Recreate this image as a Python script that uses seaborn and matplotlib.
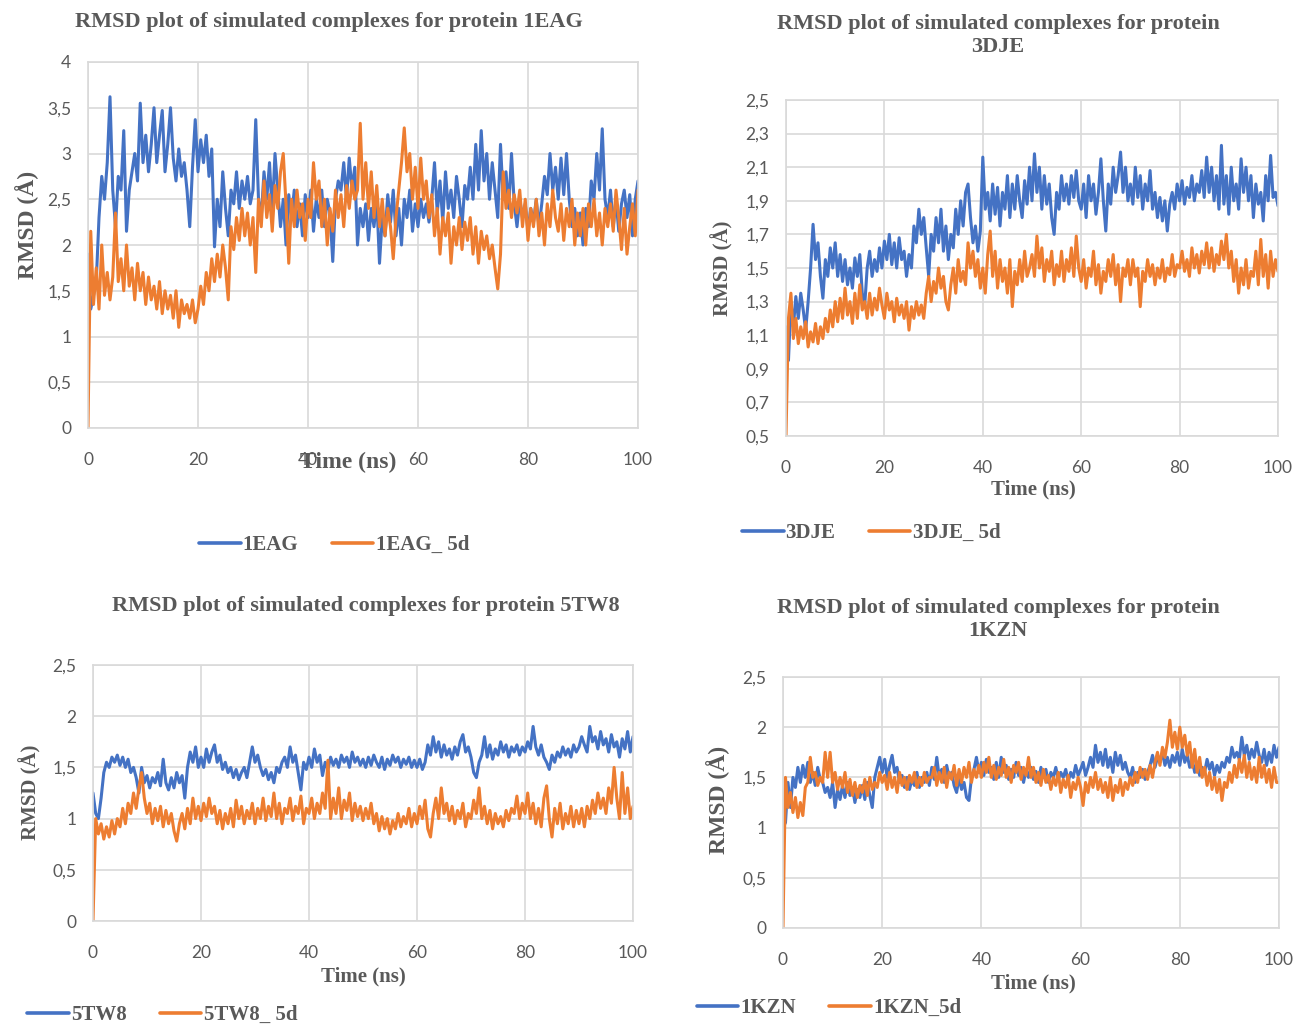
import numpy as np
import pandas as pd
import matplotlib
matplotlib.use("Agg")
import matplotlib.pyplot as plt
import seaborn as sns
from matplotlib.ticker import FuncFormatter, FixedLocator
from matplotlib.font_manager import FontProperties

# ---------------- data (RMSD in Angstrom, sampled every 0.5 ns from 0 to 100 ns) ----------------
rmsd_1eag = [
    1.9, 1.3, 1.45, 1.6, 2.3, 2.75, 2.5, 2.9, 3.62, 2.6, 2.2, 2.75, 2.6, 3.25, 2.15, 2.6, 2.8, 3.0, 2.7, 3.55,
    2.9, 3.2, 2.8, 3.1, 3.5, 2.9, 3.2, 3.47, 2.8, 3.1, 3.5, 2.95, 2.7, 3.05, 2.75, 2.9, 2.6, 2.2, 2.85, 3.37,
    2.8, 3.15, 2.9, 3.2, 2.75, 3.05, 1.98, 2.5, 2.2, 2.8, 2.4, 2.1, 2.6, 2.45, 2.8, 2.4, 2.7, 2.5, 2.75, 2.45,
    2.6, 3.37, 2.5, 2.3, 2.8, 2.5, 2.9, 2.35, 3.0, 2.6, 2.2, 2.5, 2.0, 2.55, 2.3, 2.6, 2.2, 2.45, 2.1, 2.55,
    2.3, 2.6, 2.15, 2.5, 2.3, 2.6, 2.2, 2.5, 2.35, 1.82, 2.5, 2.7, 2.6, 2.9, 2.5, 2.95, 2.6, 2.85, 2.0, 2.4,
    2.2, 2.45, 2.05, 2.4, 2.2, 2.5, 1.8, 2.3, 2.1, 2.55, 2.25, 2.6, 2.1, 2.4, 2.0, 2.5, 2.3, 2.6, 2.15, 2.45,
    2.2, 2.5, 2.3, 2.45, 2.25, 2.5, 2.9, 2.35, 2.7, 2.25, 2.8, 2.4, 2.6, 2.3, 2.75, 2.5, 2.2, 2.65, 2.5, 2.85,
    2.5, 3.1, 2.6, 3.25, 2.7, 3.0, 2.5, 2.9, 2.6, 2.3, 3.1, 2.5, 2.8, 2.4, 3.0, 2.45, 2.2, 2.5, 2.3, 2.45,
    2.15, 2.4, 2.25, 2.5, 2.2, 2.45, 2.75, 2.55, 3.0, 2.6, 2.85, 2.5, 2.95, 2.55, 3.0, 2.5, 2.2, 2.4, 2.1, 2.35,
    2.0, 2.4, 2.2, 2.7, 2.5, 3.0, 2.6, 3.27, 2.5, 2.3, 2.6, 2.2, 2.5, 2.15, 2.45, 2.6, 2.3, 2.55, 2.1, 2.5,
    2.7]
rmsd_1eag_5d = [
    0.0, 2.15, 1.35, 1.75, 1.3, 2.0, 1.45, 1.7, 1.4, 1.65, 2.35, 1.6, 1.85, 1.5, 2.0, 1.55, 1.75, 1.4, 1.8, 1.5,
    1.7, 1.35, 1.65, 1.4, 1.55, 1.3, 1.6, 1.25, 1.5, 1.3, 1.45, 1.2, 1.5, 1.1, 1.4, 1.25, 1.35, 1.2, 1.4, 1.15,
    1.3, 1.55, 1.35, 1.7, 1.5, 1.85, 1.6, 1.9, 1.65, 2.0, 1.75, 1.4, 2.2, 1.95, 2.3, 2.05, 2.4, 2.1, 2.35, 2.0,
    2.3, 1.7, 2.5, 2.2, 2.7, 2.3, 2.55, 2.15, 2.65, 2.4, 2.8, 3.0, 2.45, 1.8, 2.5, 2.2, 2.6, 2.3, 2.45, 2.05,
    2.5, 2.3, 2.9, 2.5, 2.7, 2.2, 2.5, 2.0, 2.4, 2.15, 2.6, 2.3, 2.55, 2.2, 2.65, 2.4, 2.7, 2.5, 2.6, 3.33,
    2.5, 2.9, 2.4, 2.8, 2.3, 2.65, 2.2, 2.5, 2.1, 2.4, 2.2, 1.85, 2.3, 2.6, 2.9, 3.28, 2.8, 3.0, 2.5, 2.85,
    2.4, 2.95, 2.5, 2.7, 2.3, 2.55, 2.1, 2.4, 1.9, 2.3, 2.1, 2.35, 1.8, 2.2, 2.0, 2.3, 1.95, 2.25, 2.05, 2.3,
    1.9, 2.2, 1.8, 2.15, 1.95, 2.1, 1.85, 2.0, 1.75, 1.52, 1.9, 2.8, 2.4, 2.6, 2.3, 2.55, 2.35, 2.6, 2.2, 2.5,
    2.05, 2.4, 2.2, 2.5, 2.1, 2.35, 2.0, 2.45, 2.2, 2.6, 2.3, 2.15, 2.45, 2.05, 2.4, 2.2, 2.5, 2.0, 2.35, 2.1,
    2.4, 2.0, 2.45, 2.2, 2.5, 2.1, 2.35, 2.0, 2.4, 2.2, 2.45, 2.15, 2.6, 2.3, 1.95, 2.4, 1.9, 2.2, 2.45, 2.1,
    2.6]

rmsd_3dje = [
    1.15, 0.95, 1.3, 1.15, 1.33, 1.2, 1.35, 1.25, 1.13, 1.3, 1.5, 1.76, 1.55, 1.65, 1.45, 1.32, 1.55, 1.45, 1.62, 1.5,
    1.65, 1.45, 1.58, 1.42, 1.55, 1.4, 1.5, 1.38, 1.56, 1.45, 1.58, 1.35, 1.28, 1.5, 1.6, 1.45, 1.55, 1.48, 1.62, 1.5,
    1.66, 1.55, 1.7, 1.52, 1.65, 1.5, 1.68, 1.55, 1.6, 1.45, 1.58, 1.5, 1.75, 1.65, 1.85, 1.7, 1.8, 1.62, 1.45, 1.7,
    1.6, 1.8, 1.65, 1.85, 1.6, 1.75, 1.55, 1.7, 1.62, 1.85, 1.7, 1.9, 1.75, 1.95, 2.0, 1.8, 1.65, 1.75, 1.6, 1.72,
    2.16, 1.85, 1.95, 1.78, 2.0, 1.82, 1.98, 1.75, 1.95, 1.85, 2.05, 1.8, 2.0, 1.85, 2.05, 1.9, 1.8, 2.02, 1.88, 2.1,
    1.9, 2.18, 1.95, 2.1, 1.85, 2.05, 1.88, 2.0, 1.8, 1.7, 1.95, 1.85, 2.05, 1.9, 2.0, 1.88, 2.05, 1.92, 2.08, 1.9,
    1.85, 2.0, 1.8, 2.05, 1.9, 2.0, 1.82, 1.95, 2.15, 1.9, 1.72, 2.0, 1.88, 2.1, 1.95, 2.05, 2.19, 1.95, 2.1, 1.9,
    2.0, 1.88, 2.1, 1.92, 2.05, 1.85, 2.0, 1.9, 2.08, 1.85, 1.95, 1.8, 1.92, 1.78, 1.9, 1.72, 1.88, 1.95, 1.85, 2.0,
    1.9, 2.02, 1.88, 1.98, 1.92, 2.05, 1.9, 2.0, 1.95, 2.08, 1.92, 2.16, 1.95, 2.1, 1.9, 2.05, 1.85, 2.23, 1.88, 2.05,
    1.82, 2.1, 1.9, 2.0, 1.85, 2.15, 1.95, 2.1, 1.9, 2.05, 1.8, 2.0, 1.88, 1.95, 1.78, 2.05, 1.9, 2.17, 1.92, 1.95,
    1.87]
rmsd_3dje_5d = [
    0.5, 1.2, 1.35, 1.08, 1.2, 1.05, 1.15, 1.08, 1.18, 1.03, 1.12, 1.06, 1.17, 1.05, 1.15, 1.08, 1.2, 1.12, 1.25, 1.15,
    1.3, 1.18, 1.32, 1.2, 1.38, 1.22, 1.3, 1.17, 1.35, 1.2, 1.4, 1.25, 1.3, 1.2, 1.35, 1.22, 1.32, 1.25, 1.38, 1.28,
    1.2, 1.35, 1.25, 1.3, 1.18, 1.32, 1.22, 1.28, 1.2, 1.3, 1.13, 1.27, 1.2, 1.3, 1.22, 1.28, 1.2, 1.35, 1.45, 1.3,
    1.42, 1.35, 1.5, 1.38, 1.45, 1.3, 1.25, 1.4, 1.5, 1.35, 1.55, 1.42, 1.48, 1.4, 1.65, 1.5, 1.6, 1.45, 1.55, 1.38,
    1.5, 1.35, 1.58, 1.72, 1.45, 1.6, 1.38, 1.55, 1.42, 1.5, 1.35, 1.55, 1.27, 1.48, 1.4, 1.55, 1.42, 1.6, 1.45, 1.5,
    1.58, 1.45, 1.69, 1.5, 1.62, 1.42, 1.55, 1.48, 1.6, 1.4, 1.52, 1.45, 1.6, 1.42, 1.55, 1.48, 1.62, 1.45, 1.69, 1.5,
    1.42, 1.55, 1.38, 1.5, 1.45, 1.6, 1.4, 1.52, 1.35, 1.48, 1.42, 1.55, 1.45, 1.58, 1.4, 1.52, 1.3, 1.5, 1.45, 1.55,
    1.4, 1.55, 1.45, 1.5, 1.27, 1.48, 1.42, 1.55, 1.45, 1.52, 1.4, 1.5, 1.44, 1.55, 1.42, 1.5, 1.46, 1.58, 1.45, 1.52,
    1.5, 1.6, 1.48, 1.55, 1.45, 1.62, 1.5, 1.58, 1.47, 1.6, 1.52, 1.65, 1.5, 1.62, 1.48, 1.58, 1.52, 1.66, 1.55, 1.7,
    1.5, 1.6, 1.42, 1.55, 1.35, 1.5, 1.4, 1.55, 1.38, 1.48, 1.45, 1.6, 1.4, 1.67, 1.45, 1.58, 1.38, 1.6, 1.45, 1.55,
    1.48]

rmsd_5tw8 = [
    1.25, 1.05, 1.0, 1.2, 1.45, 1.55, 1.5, 1.6, 1.55, 1.62, 1.52, 1.6, 1.5, 1.58, 1.45, 1.5, 1.4, 1.25, 1.5, 1.35,
    1.42, 1.3, 1.4, 1.35, 1.45, 1.32, 1.58, 1.35, 1.28, 1.4, 1.3, 1.45, 1.35, 1.42, 1.2, 1.5, 1.65, 1.55, 1.7, 1.5,
    1.6, 1.5, 1.68, 1.55, 1.65, 1.72, 1.55, 1.62, 1.48, 1.55, 1.45, 1.5, 1.4, 1.48, 1.38, 1.45, 1.5, 1.4, 1.55, 1.7,
    1.55, 1.62, 1.5, 1.42, 1.48, 1.38, 1.45, 1.35, 1.5, 1.45, 1.55, 1.6, 1.5, 1.7, 1.55, 1.62, 1.45, 1.28, 1.55, 1.48,
    1.6, 1.5, 1.68, 1.55, 1.62, 1.42, 1.55, 1.48, 1.6, 1.52, 1.58, 1.5, 1.62, 1.55, 1.6, 1.5, 1.65, 1.55, 1.6, 1.52,
    1.58, 1.5, 1.6, 1.52, 1.62, 1.55, 1.5, 1.6, 1.48, 1.58, 1.52, 1.62, 1.55, 1.6, 1.5, 1.58, 1.53, 1.6, 1.5, 1.57,
    1.5, 1.58, 1.48, 1.55, 1.72, 1.62, 1.8, 1.65, 1.75, 1.6, 1.72, 1.62, 1.68, 1.58, 1.7, 1.62, 1.75, 1.82, 1.65, 1.7,
    1.6, 1.45, 1.4, 1.55, 1.62, 1.8, 1.6, 1.72, 1.58, 1.68, 1.62, 1.75, 1.65, 1.72, 1.6, 1.7, 1.65, 1.72, 1.62, 1.7,
    1.65, 1.75, 1.68, 1.9, 1.7, 1.62, 1.72, 1.6, 1.55, 1.48, 1.62, 1.55, 1.65, 1.6, 1.7, 1.62, 1.68, 1.6, 1.72, 1.65,
    1.7, 1.8, 1.72, 1.65, 1.9, 1.75, 1.8, 1.68, 1.85, 1.72, 1.78, 1.65, 1.82, 1.7, 1.75, 1.6, 1.78, 1.68, 1.85, 1.65,
    1.8]
rmsd_5tw8_5d = [
    0.0, 1.0, 0.85, 0.95, 0.8, 0.92, 0.82, 0.98, 0.85, 1.0, 0.92, 1.1, 0.95, 1.15, 1.05, 1.25, 1.1, 1.3, 1.45, 1.2,
    1.05, 1.15, 0.95, 1.1, 0.98, 1.12, 0.92, 1.08, 0.95, 1.05, 0.88, 0.78, 0.95, 1.05, 0.9, 1.1, 0.95, 1.2, 1.0, 1.12,
    0.98, 1.15, 1.02, 1.2, 1.05, 1.12, 0.95, 1.08, 0.9, 1.05, 0.95, 1.1, 0.92, 1.18, 1.0, 1.12, 0.95, 1.08, 1.0, 1.15,
    0.95, 1.1, 1.0, 1.2, 0.98, 1.12, 1.02, 1.25, 1.0, 1.15, 0.95, 1.1, 1.05, 1.2, 0.98, 1.12, 1.05, 1.22, 0.95, 1.1,
    1.05, 1.2, 1.0, 1.15, 1.05, 1.25, 1.1, 1.57, 1.0, 1.2, 1.05, 1.3, 1.0, 1.18, 1.08, 1.25, 0.98, 1.15, 1.02, 1.12,
    0.98, 1.1, 1.0, 1.15, 0.95, 1.05, 0.88, 1.02, 0.9, 1.0, 0.85, 0.98, 0.9, 1.05, 0.92, 1.02, 0.95, 1.1, 0.92, 1.05,
    0.95, 1.12, 1.0, 1.18, 0.9, 0.82, 1.05, 1.2, 1.0, 1.3, 1.05, 1.15, 0.98, 1.12, 0.95, 1.08, 1.0, 1.15, 0.92, 1.05,
    1.0, 1.18, 1.05, 1.3, 1.0, 1.12, 0.95, 1.08, 0.9, 1.05, 0.95, 1.02, 0.92, 1.08, 0.98, 1.1, 1.05, 1.22, 1.0, 1.15,
    1.05, 1.25, 1.0, 1.15, 0.95, 1.1, 0.92, 1.2, 1.32, 1.0, 0.82, 1.1, 0.95, 1.15, 0.9, 1.05, 0.95, 1.12, 0.92, 1.08,
    0.95, 1.1, 0.92, 1.12, 1.0, 1.18, 1.05, 1.25, 1.1, 1.2, 1.05, 1.3, 1.15, 1.5, 1.2, 1.0, 1.45, 1.05, 1.3, 1.0,
    1.12]

rmsd_1kzn = [
    1.0, 1.05, 1.45, 1.2, 1.5, 1.4, 1.6, 1.45, 1.62, 1.5, 1.65, 1.45, 1.55, 1.42, 1.6, 1.48, 1.45, 1.35, 1.4, 1.3,
    1.45, 1.2, 1.38, 1.28, 1.42, 1.3, 1.45, 1.32, 1.4, 1.25, 1.38, 1.3, 1.42, 1.28, 1.45, 1.32, 1.2, 1.5, 1.6, 1.7,
    1.55, 1.68, 1.5, 1.62, 1.72, 1.55, 1.6, 1.45, 1.52, 1.4, 1.5, 1.38, 1.48, 1.42, 1.55, 1.4, 1.5, 1.45, 1.55, 1.42,
    1.6, 1.48, 1.7, 1.5, 1.58, 1.45, 1.62, 1.5, 1.55, 1.42, 1.35, 1.5, 1.38, 1.45, 1.3, 1.27, 1.5, 1.58, 1.7, 1.55,
    1.65, 1.52, 1.68, 1.55, 1.6, 1.48, 1.65, 1.5, 1.7, 1.55, 1.62, 1.48, 1.58, 1.5, 1.65, 1.52, 1.6, 1.45, 1.58, 1.5,
    1.6, 1.48, 1.56, 1.45, 1.6, 1.5, 1.58, 1.45, 1.55, 1.5, 1.6, 1.48, 1.55, 1.5, 1.58, 1.46, 1.55, 1.5, 1.62, 1.52,
    1.58, 1.65, 1.52, 1.6, 1.7, 1.6, 1.82, 1.65, 1.75, 1.62, 1.78, 1.6, 1.7, 1.55, 1.75, 1.62, 1.72, 1.58, 1.65, 1.55,
    1.5, 1.6, 1.45, 1.55, 1.5, 1.58, 1.48, 1.55, 1.62, 1.72, 1.6, 1.7, 1.65, 1.75, 1.62, 1.7, 1.6, 1.72, 1.65, 1.75,
    1.62, 1.78, 1.65, 1.72, 1.6, 1.68, 1.55, 1.65, 1.52, 1.6, 1.55, 1.68, 1.58, 1.65, 1.52, 1.62, 1.55, 1.65, 1.6, 1.7,
    1.65, 1.8, 1.7, 1.75, 1.68, 1.9, 1.72, 1.82, 1.68, 1.78, 1.7, 1.85, 1.72, 1.65, 1.78, 1.62, 1.75, 1.65, 1.82, 1.7,
    1.8]
rmsd_1kzn_5d = [
    0.0, 1.5, 1.2, 1.35, 1.15, 1.3, 1.1, 1.25, 1.12, 1.4, 1.45, 1.7, 1.5, 1.55, 1.42, 1.5, 1.45, 1.75, 1.5, 1.75,
    1.45, 1.55, 1.38, 1.5, 1.4, 1.55, 1.35, 1.48, 1.32, 1.45, 1.3, 1.42, 1.35, 1.48, 1.32, 1.5, 1.38, 1.45, 1.4, 1.55,
    1.45, 1.52, 1.38, 1.55, 1.4, 1.5, 1.35, 1.55, 1.42, 1.5, 1.38, 1.52, 1.45, 1.55, 1.4, 1.5, 1.42, 1.55, 1.45, 1.5,
    1.5, 1.6, 1.42, 1.55, 1.45, 1.6, 1.4, 1.55, 1.48, 1.62, 1.42, 1.58, 1.45, 1.6, 1.5, 1.65, 1.45, 1.58, 1.5, 1.62,
    1.5, 1.65, 1.55, 1.7, 1.5, 1.62, 1.48, 1.6, 1.52, 1.68, 1.5, 1.6, 1.45, 1.62, 1.55, 1.65, 1.48, 1.6, 1.52, 1.7,
    1.5, 1.6, 1.45, 1.55, 1.42, 1.58, 1.45, 1.52, 1.38, 1.5, 1.42, 1.55, 1.35, 1.48, 1.4, 1.52, 1.3, 1.45, 1.38, 1.5,
    1.4, 1.22, 1.45, 1.35, 1.5, 1.4, 1.55, 1.38, 1.48, 1.35, 1.45, 1.3, 1.5, 1.27, 1.42, 1.35, 1.48, 1.32, 1.45, 1.38,
    1.5, 1.42, 1.55, 1.45, 1.6, 1.5, 1.58, 1.48, 1.62, 1.5, 1.65, 1.75, 1.62, 1.8, 1.7, 1.85, 2.07, 1.8, 1.95, 1.78,
    2.0, 1.8, 1.92, 1.72, 1.85, 1.6, 1.78, 1.55, 1.7, 1.5, 1.6, 1.42, 1.55, 1.38, 1.5, 1.35, 1.48, 1.27, 1.45, 1.4,
    1.55, 1.45, 1.62, 1.5, 1.68, 1.55, 1.72, 1.5, 1.65, 1.48, 1.6, 1.45, 1.7, 1.5, 1.62, 1.45, 1.58, 1.4, 1.6, 1.45,
    1.45]

proteins = ["1EAG", "3DJE", "5TW8", "1KZN"]
labels_main = ["1EAG", "3DJE", "5TW8", "1KZN"]
labels_5d = ["1EAG_ 5d", "3DJE_ 5d", "5TW8_ 5d", "1KZN_5d"]
series_main = [rmsd_1eag, rmsd_3dje, rmsd_5tw8, rmsd_1kzn]
series_5d = [rmsd_1eag_5d, rmsd_3dje_5d, rmsd_5tw8_5d, rmsd_1kzn_5d]
y_limits = [(0, 4), (0.5, 2.5), (0, 2.5), (0, 2.5)]
y_steps = [0.5, 0.2, 0.5, 0.5]
x_ticks = [0, 20, 40, 60, 80, 100]

# ---------------- style ----------------
BLUE = "#4472C4"
ORANGE = "#ED7D31"
GRID = "#D9D9D9"
TEXT = "#595959"
SERIF = "Liberation Serif"
SANS = "Lato"

sns.set_theme(style="white")
plt.rcParams["font.family"] = [SANS, "DejaVu Sans"]

W, H = 1297, 1029
fig = plt.figure(figsize=(W / 100, H / 100), dpi=100)

def fx(px):
    return px / W

def fy(py):
    return 1 - py / H

# axes boxes in pixel coords: left, top, right, bottom
boxes = [(88, 62, 638, 428), (786, 100, 1278, 436), (93, 665, 633, 921), (783, 677, 1279, 928)]
titles = ["RMSD plot of simulated complexes for protein 1EAG",
          "RMSD plot of simulated complexes for protein\n3DJE",
          "RMSD plot of simulated complexes for protein 5TW8",
          "RMSD plot of simulated complexes for protein\n1KZN"]
title_pos = [(329, 22), (998, 35), (366, 606), (998, 619)]
ylabel_pos = [(27, 225), (722, 268), (30, 792), (718, 800)]
ylabel_size = [17, 15, 15, 17]
xlabel_pos = [(348, 462), (1033, 489), (363, 976), (1033, 983)]
xlabel_size = [17, 15, 15, 15]
legend_pos = [(334, 545), (871, 533), (162, 1015), (829, 1008)]

def fmt(v, p):
    s = ("%.1f" % v).rstrip("0").rstrip(".")
    return s.replace(".", ",")

for i in range(4):
    l, t, r, b = boxes[i]
    ax = fig.add_axes([fx(l), fy(b), fx(r - l), fy(t) - fy(b)])
    n1 = len(series_main[i])
    n2 = len(series_5d[i])
    df = pd.DataFrame({
        "time": np.concatenate([np.linspace(0, 100, n1), np.linspace(0, 100, n2)]),
        "rmsd": np.concatenate([series_main[i], series_5d[i]]),
        "series": [labels_main[i]] * n1 + [labels_5d[i]] * n2,
    })
    sns.lineplot(data=df, x="time", y="rmsd", hue="series", palette=[BLUE, ORANGE],
                 linewidth=2.2, errorbar=None, ax=ax, legend=True)
    ax.set_xlim(0, 100)
    ax.set_ylim(*y_limits[i])
    ax.xaxis.set_major_locator(FixedLocator(x_ticks))
    lo, hi = y_limits[i]
    yt = np.round(np.arange(lo, hi + 1e-9, y_steps[i]), 2)
    ax.yaxis.set_major_locator(FixedLocator(yt))
    ax.yaxis.set_major_formatter(FuncFormatter(fmt))
    ax.grid(True, color=GRID, linewidth=1.2)
    ax.set_axisbelow(True)
    for sp in ax.spines.values():
        sp.set_color(GRID)
        sp.set_linewidth(1.2)
    ax.tick_params(axis="both", length=0, labelsize=12.5, labelcolor=TEXT)
    ax.tick_params(axis="x", pad=17)
    ax.tick_params(axis="y", pad=12)
    for lab in ax.get_xticklabels() + ax.get_yticklabels():
        lab.set_family([SANS, "DejaVu Sans"])
    ax.set_xlabel("")
    ax.set_ylabel("")

    handles, labs = ax.get_legend_handles_labels()
    lx, ly = legend_pos[i]
    leg = ax.legend(handles, labs, loc="center", bbox_to_anchor=(fx(lx), fy(ly)),
                    bbox_transform=fig.transFigure, ncol=2, frameon=False,
                    handlelength=2.0, handletextpad=0.1, columnspacing=1.6,
                    prop=FontProperties(family=SERIF, weight="bold", size=15))
    for txt in leg.get_texts():
        txt.set_color(TEXT)
    for hl in leg.get_lines():
        hl.set_linewidth(2.6)

    tx, ty = title_pos[i]
    fig.text(fx(tx), fy(ty), titles[i], ha="center", va="center", family=SERIF,
             weight="bold", size=16, color=TEXT, linespacing=1.2)
    yx, yy = ylabel_pos[i]
    fig.text(fx(yx), fy(yy), "RMSD (Å)", ha="center", va="center", rotation=90,
             family=SERIF, weight="bold", size=ylabel_size[i], color=TEXT)
    xx, xy = xlabel_pos[i]
    fig.text(fx(xx), fy(xy), "Time (ns)", ha="center", va="center", family=SERIF,
             weight="bold", size=xlabel_size[i], color=TEXT)

fig.savefig("out.png", dpi=100, facecolor="white")
